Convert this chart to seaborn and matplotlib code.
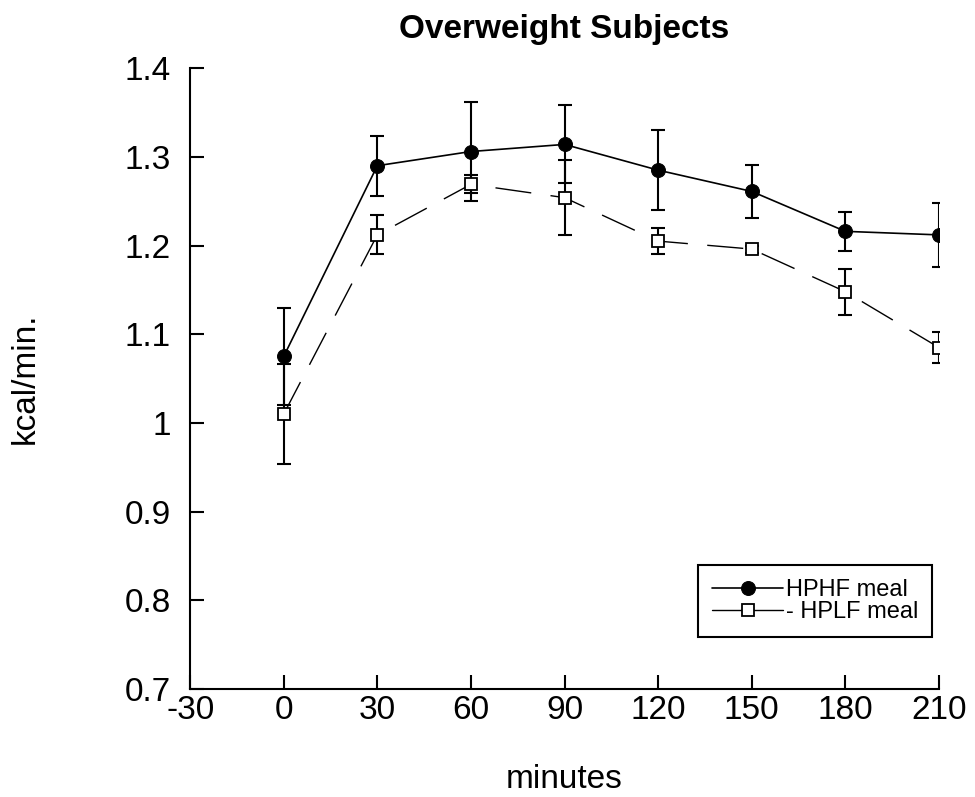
import matplotlib
matplotlib.use('Agg')
import matplotlib.pyplot as plt
import pandas as pd
import seaborn as sns

# Data
minutes = [0, 30, 60, 90, 120, 150, 180, 210]
hphf = [1.075, 1.290, 1.306, 1.314, 1.285, 1.261, 1.216, 1.212]
hphf_err = [0.055, 0.034, 0.056, 0.044, 0.045, 0.030, 0.022, 0.036]
hplf = [1.010, 1.212, 1.269, 1.254, 1.205, 1.196, 1.148, 1.085]
hplf_err = [0.056, 0.022, 0.010, 0.042, 0.015, 0.004, 0.026, 0.017]

x_ticks = [-30, 0, 30, 60, 90, 120, 150, 180, 210]
y_ticks = [0.7, 0.8, 0.9, 1.0, 1.1, 1.2, 1.3, 1.4]
y_labels = ['0.7', '0.8', '0.9', '1', '1.1', '1.2', '1.3', '1.4']

df = pd.DataFrame({'minutes': minutes, 'hphf': hphf, 'hplf': hplf})

sns.set_theme(style='ticks')
plt.rcParams['font.family'] = ['Liberation Sans', 'DejaVu Sans']
plt.rcParams['axes.unicode_minus'] = False
plt.rcParams['text.color'] = 'black'
plt.rcParams['axes.labelcolor'] = 'black'

fig = plt.figure(figsize=(9.75, 7.97), dpi=100)
ax = fig.add_axes([0.195, 0.1355, 0.768, 0.779])

# Error bars
ax.errorbar(minutes, hphf, yerr=hphf_err, fmt='none', ecolor='black',
            elinewidth=1.5, capsize=5, capthick=1.5, zorder=2)
ax.errorbar(minutes, hplf, yerr=hplf_err, fmt='none', ecolor='black',
            elinewidth=1.5, capsize=5, capthick=1.5, zorder=2)

# Lines
sns.lineplot(data=df, x='minutes', y='hphf', ax=ax, color='black', lw=1.2,
             marker='o', markersize=10, markerfacecolor='black',
             markeredgecolor='black', label='HPHF meal', zorder=3)
sns.lineplot(data=df, x='minutes', y='hplf', ax=ax, color='black', lw=1.0,
             linestyle=(0, (26, 14)), marker='s', markersize=9,
             markerfacecolor='white', markeredgecolor='black',
             markeredgewidth=1.3, label='- HPLF meal', zorder=3)

ax.set_xlim(-30, 210)
ax.set_ylim(0.7, 1.4)
ax.set_xticks(x_ticks)
ax.set_yticks(y_ticks)
ax.set_yticklabels(y_labels)

sns.despine(ax=ax)
for s in ['left', 'bottom']:
    ax.spines[s].set_linewidth(1.5)
    ax.spines[s].set_color('black')
ax.tick_params(axis='both', direction='in', length=10, width=1.5,
               labelsize=24, colors='black')
ax.tick_params(axis='y', pad=14)
ax.tick_params(axis='x', pad=4)

ax.set_title('Overweight Subjects', fontsize=24, fontweight='bold', pad=22)
ax.set_xlabel('minutes', fontsize=24, labelpad=28)
ax.set_ylabel('kcal/min.', fontsize=24)
ax.yaxis.set_label_coords(-0.2, 0.5)

# Legend
leg = ax.legend(loc='upper right', bbox_to_anchor=(0.991, 0.2), borderaxespad=0,
                fontsize=17, frameon=True, fancybox=False, edgecolor='black',
                framealpha=1, handlelength=3.0, handletextpad=0.1,
                labelspacing=0.0, borderpad=0.6)
leg.get_frame().set_linewidth(1.5)
for h in leg.legend_handles:
    h.set_linestyle('-')

plt.savefig('out.png', dpi=100)
